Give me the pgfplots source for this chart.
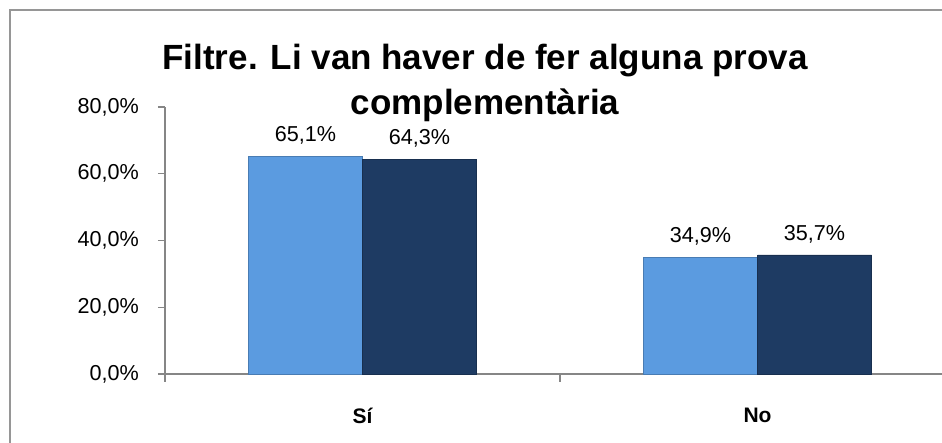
\documentclass[border=0pt]{standalone}
\usepackage{pgfplots}
\pgfplotsset{compat=1.18}
\usepackage{fontspec}
\setmainfont{Liberation Sans}
\definecolor{lightbar}{RGB}{91,155,224}
\definecolor{darkbar}{RGB}{30,59,99}
\definecolor{framegray}{RGB}{150,150,150}
\definecolor{axisgray}{RGB}{134,134,134}
\pgfkeys{/pgf/number format/assume math mode=true}
\begin{document}
\begin{tikzpicture}
\useasboundingbox (0,0) rectangle (471pt,221.5pt);
\clip (0,0) rectangle (471pt,221.5pt);
\draw[framegray, line width=0.8pt] (5pt,-10pt) rectangle (500pt,216.5pt);
\node[font=\fontsize{17.5}{22.5}\selectfont\bfseries, align=center] at (242.5pt,180pt)
  {Filtre. Li van haver de fer alguna prova\\complementària};
\begin{axis}[
  at={(82.5pt,34.5pt)}, anchor=south west,
  scale only axis,
  width=395pt, height=133.5pt,
  xmin=-0.5, xmax=1.5,
  ymin=0, ymax=80,
  axis x line*=bottom, axis y line*=left,
  axis line style={axisgray, line width=0.8pt},
  ybar=0pt, bar width=57pt,
  xtick={0,1}, xticklabels={Sí,No},
  major x tick style={draw=none},
  minor xtick={-0.5,0.5,1.5},
  minor x tick style={axisgray, line width=0.6pt},
  minor tick length=4pt,
  ytick={0,20,40,60,80},
  ytick style={axisgray, line width=0.6pt},
  tick align=outside, major tick length=3.5pt,
  xticklabel style={font=\fontsize{10.5}{12}\selectfont\bfseries, yshift=-10pt},
  yticklabel style={font=\fontsize{10.8}{12}\selectfont, xshift=-6pt},
  yticklabel={\pgfmathprintnumber[fixed,fixed zerofill,precision=1,use comma]{\tick}\%},
  nodes near coords={\pgfmathprintnumber[fixed,fixed zerofill,precision=1,use comma]{\pgfplotspointmeta}\%},
  every node near coord/.append style={font=\fontsize{10.8}{12}\selectfont, text=black, yshift=2.5pt},
  clip=false,
]
\addplot[fill=lightbar, draw=lightbar!80!black, line width=0.3pt] coordinates {(0,65.1) (1,34.9)};
\addplot[fill=darkbar, draw=darkbar!80!black, line width=0.3pt] coordinates {(0,64.3) (1,35.7)};
\end{axis}
\end{tikzpicture}
\end{document}
